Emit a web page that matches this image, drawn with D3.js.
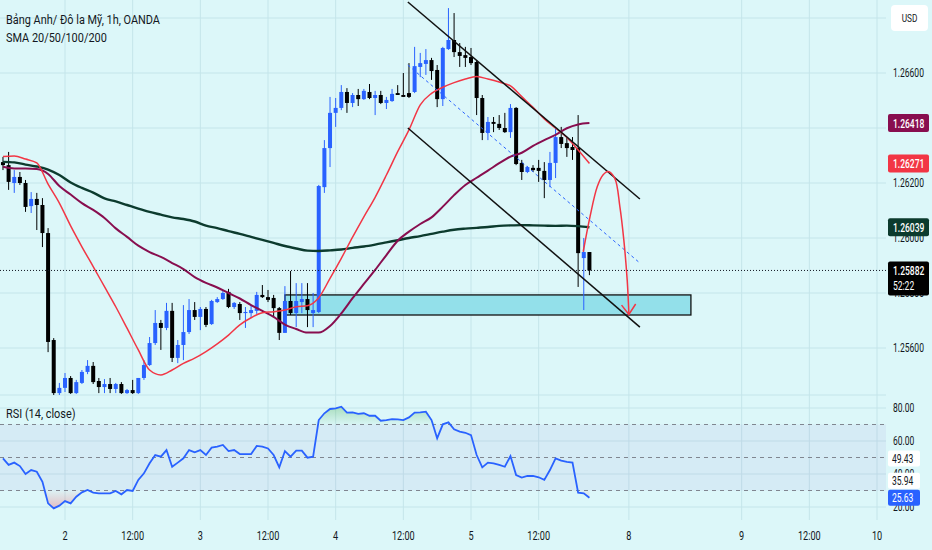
<!DOCTYPE html>
<html>
<head>
<meta charset="utf-8">
<script src="https://cdn.jsdelivr.net/npm/d3@7"></script>
<style>
html, body { margin: 0; padding: 0; background: #dcf7f9; }
svg { display: block; font-family: Roboto, "Noto Sans", sans-serif; }
</style>
</head>
<body>
<svg id="chart" width="932" height="550"></svg>
<script>
// hourly GBP/USD candles, bar 0 = midnight of the 2nd
let firstBar = -11

let opens = [1.26276,1.26265,1.26200,1.26222,1.26200,1.26116,1.26142,1.26120,1.26018,1.25629,1.25436,
  1.25455,1.25491,1.25436,1.25473,1.25513,1.25535,1.25480,1.25458,1.25469,1.25451,1.25469,1.25436,1.25447,1.25436,
  1.25491,1.25538,1.25618,1.25691,1.25673,1.25735,1.25564,1.25611,1.25658,1.25738,1.25713,1.25742,1.25687,1.25767,
  1.25778,1.25804,1.25749,1.25760,1.25727,1.25727,1.25735,1.25793,1.25785,1.25782,1.25745,1.25655,1.25771,1.25727,
  1.25767,1.25778,1.25727,1.25731,1.26185,1.26327,1.26455,1.26473,1.26531,1.26491,1.26520,1.26505,1.26531,1.26509,
  1.26520,1.26491,1.26498,1.26527,1.26520,1.26527,1.26531,1.26622,1.26633,1.26647,1.26611,1.26505,1.26687,1.26720,
  1.26676,1.26665,1.26658,1.26640,1.26509,1.26382,1.26422,1.26415,1.26400,1.26385,1.26473,1.26273,1.26240,1.26255,
  1.26255,1.26244,1.26211,1.26273,1.26367,1.26345,1.26331,1.26327,1.25927,1.25949]
let highs = [1.26295,1.26313,1.26247,1.26240,1.26211,1.26167,1.26164,1.26145,1.26036,1.25636,1.25473,
  1.25509,1.25498,1.25484,1.25520,1.25556,1.25549,1.25491,1.25487,1.25491,1.25473,1.25476,1.25451,1.25484,1.25491,
  1.25556,1.25640,1.25738,1.25702,1.25764,1.25764,1.25629,1.25756,1.25778,1.25767,1.25749,1.25749,1.25775,1.25785,
  1.25807,1.25815,1.25767,1.25767,1.25749,1.25756,1.25804,1.25829,1.25811,1.25793,1.25749,1.25825,1.25880,1.25836,
  1.25836,1.25836,1.25800,1.26193,1.26356,1.26513,1.26509,1.26556,1.26545,1.26527,1.26542,1.26542,1.26560,1.26535,
  1.26535,1.26513,1.26542,1.26556,1.26600,1.26636,1.26695,1.26673,1.26687,1.26655,1.26629,1.26695,1.26836,1.26818,
  1.26709,1.26695,1.26691,1.26647,1.26520,1.26440,1.26440,1.26447,1.26455,1.26487,1.26476,1.26284,1.26262,1.26265,
  1.26284,1.26276,1.26313,1.26400,1.26404,1.26364,1.26367,1.26447,1.26000,1.25949]
let lows = [1.26247,1.26175,1.26164,1.26193,1.26095,1.26091,1.26029,1.25967,1.25585,1.25429,1.25429,
  1.25440,1.25433,1.25433,1.25469,1.25505,1.25469,1.25436,1.25436,1.25436,1.25436,1.25433,1.25433,1.25433,1.25433,
  1.25484,1.25535,1.25611,1.25593,1.25665,1.25549,1.25545,1.25556,1.25651,1.25702,1.25665,1.25676,1.25684,1.25764,
  1.25775,1.25745,1.25742,1.25702,1.25673,1.25709,1.25724,1.25782,1.25767,1.25713,1.25629,1.25655,1.25720,1.25676,
  1.25727,1.25676,1.25676,1.25727,1.26164,1.26258,1.26404,1.26465,1.26455,1.26476,1.26480,1.26502,1.26505,1.26447,
  1.26487,1.26469,1.26495,1.26520,1.26513,1.26509,1.26527,1.26585,1.26593,1.26575,1.26476,1.26480,1.26684,1.26658,
  1.26622,1.26622,1.26629,1.26447,1.26356,1.26356,1.26385,1.26393,1.26382,1.26364,1.26265,1.26211,1.26236,1.26240,
  1.26204,1.26145,1.26185,1.26218,1.26327,1.26295,1.26284,1.25822,1.25738,1.25865]
let closes = [1.26265,1.26204,1.26222,1.26200,1.26113,1.26142,1.26120,1.26018,1.25622,1.25436,1.25455,
  1.25491,1.25436,1.25476,1.25513,1.25535,1.25476,1.25458,1.25469,1.25451,1.25469,1.25436,1.25447,1.25436,1.25491,
  1.25538,1.25618,1.25691,1.25673,1.25735,1.25564,1.25611,1.25658,1.25738,1.25713,1.25742,1.25684,1.25771,1.25778,
  1.25800,1.25749,1.25764,1.25727,1.25731,1.25738,1.25793,1.25785,1.25775,1.25745,1.25655,1.25771,1.25727,1.25771,
  1.25778,1.25738,1.25738,1.26189,1.26327,1.26455,1.26473,1.26531,1.26491,1.26520,1.26505,1.26535,1.26509,1.26520,
  1.26491,1.26502,1.26524,1.26520,1.26513,1.26513,1.26625,1.26636,1.26647,1.26607,1.26505,1.26691,1.26720,1.26676,
  1.26662,1.26655,1.26636,1.26509,1.26382,1.26422,1.26415,1.26400,1.26385,1.26473,1.26269,1.26240,1.26258,1.26247,
  1.26244,1.26211,1.26273,1.26367,1.26342,1.26327,1.26320,1.25945,1.25949,1.25882]

// moving averages, read every second bar
let smaBars = [-11,-9,-7,-5,-3,-1,1,3,5,7,9,11,13,15,17,19,21,23,25,27,29,31,33,35,37,39,41,43,45,47,49,51,
  53,55,57,59,61,63,65,67,69,71,73,75,77,79,81,83,85,87,89,91,93]
let sma20 = [1.26296,1.26298,1.26287,1.26273,1.26196,1.26127,1.26044,1.25968,1.25896,1.25823,1.25750,1.25672,
  1.25593,1.25520,1.25502,1.25520,1.25544,1.25563,1.25587,1.25615,1.25647,1.25684,1.25710,1.25728,1.25732,1.25738,
  1.25750,1.25754,1.25783,1.25853,1.25926,1.26003,1.26077,1.26148,1.26229,1.26314,1.26393,1.26484,1.26526,1.26548,
  1.26565,1.26578,1.26587,1.26578,1.26567,1.26553,1.26514,1.26475,1.26433,1.26399,1.26366,1.26320,1.26271]
let sma50 = [1.26259,1.26253,1.26253,1.26251,1.26233,1.26189,1.26158,1.26127,1.26102,1.26073,1.26035,1.26004,
  1.25972,1.25949,1.25931,1.25909,1.25887,1.25858,1.25837,1.25820,1.25800,1.25780,1.25756,1.25735,1.25713,1.25685,
  1.25669,1.25656,1.25656,1.25680,1.25726,1.25781,1.25833,1.25884,1.25938,1.25990,1.26023,1.26051,1.26075,1.26114,
  1.26156,1.26193,1.26219,1.26245,1.26272,1.26296,1.26310,1.26335,1.26356,1.26375,1.26399,1.26413,1.26418]
let sma200 = [1.26277,1.26275,1.26267,1.26260,1.26249,1.26229,1.26202,1.26182,1.26165,1.26144,1.26133,1.26120,
  1.26107,1.26095,1.26085,1.26075,1.26069,1.26060,1.26045,1.26036,1.26025,1.26015,1.26004,1.25993,1.25982,1.25971,
  1.25962,1.25954,1.25953,1.25955,1.25958,1.25964,1.25969,1.25976,1.25984,1.25992,1.26000,1.26007,1.26015,1.26023,
  1.26030,1.26034,1.26037,1.26040,1.26044,1.26046,1.26047,1.26046,1.26045,1.26044,1.26045,1.26043,1.26039]

let rsiValues = [49.5,45.5,46.9,44.8,40,42.4,41.4,35.3,22.2,19.2,20.8,23.6,
  22.2,26.2,28.9,30.3,28.7,28.3,28.3,28.3,29.7,27.7,
  30.3,29.7,36.4,40.4,46.5,51.5,50.5,54.5,44.4,46.9,
  49.5,54.5,53.1,54.5,51.5,56,56.6,57.6,53.9,54.5,
  52.1,52.1,52.1,57,56.6,55.5,51.5,44,53.9,50.5,
  54.2,54.2,49.9,50.5,72.7,76.8,79.4,79.8,80.8,77.2,
  77.4,76.4,76.8,75.3,75.3,72.3,72.7,73.3,73.1,72.7,
  74.3,77.2,77.4,77.8,72.7,61.6,70.1,71.3,67.1,65.7,
  65,63.6,51.5,44,46.9,46.5,45.5,44.4,50.9,39.4,
  37.8,38.8,38.8,38,36.4,42.4,49.5,48.1,47.3,46.9,
  28.7,28.3,25.63]

let timeTickBars = [0, 12, 24, 36, 48, 60, 72, 84, 100, 120, 132, 144]
let timeTickLabels = ['2', '12:00', '3', '12:00', '4', '12:00', '5', '12:00', '8', '9', '12:00', '10']
let priceGrid = [1.256, 1.258, 1.260, 1.262, 1.264, 1.266, 1.268]
let priceAxisLabels = [1.256, 1.258, 1.260, 1.262, 1.266]
let rsiTicks = [20, 40, 60, 80]
let rsiLevels = [70, 50, 30]

// hand drawings: [bar, price]
let channelTop = [[60.8, 1.26858], [101.95, 1.26142]]
let channelBottom = [[60.8, 1.26400], [101.95, 1.25676]]
let channelMid = [[60.8, 1.26629], [101.95, 1.25909]]
let zoneBars = [39.0, 111.0]
let zonePrices = [1.25793, 1.25720]
let arrowPath = [[91.9, 1.25950], [93.1, 1.26077], [94.4, 1.26187], [95.4, 1.26229], [96.3, 1.26242],
  [97.5, 1.26217], [98.4, 1.26114], [99.1, 1.25993], [99.7, 1.25847], [100.0, 1.25726]]
let arrowHead = [[98.7, 1.25756], [100.0, 1.25722], [101.2, 1.25760]]

let lastPrice = 1.25882
let priceLabels = [
  { v: 1.26418, c: '#880e4f' },
  { v: 1.26271, c: '#f23645' },
  { v: 1.26039, c: '#0c3b2e' }
]
let rsiLabels = [
  { v: 49.43, bg: '#ffffff', fg: '#131722' },
  { v: 35.94, bg: '#ffffff', fg: '#131722' },
  { v: 25.63, bg: '#2962ff', fg: '#ffffff' }
]

let w = 932
let h = 550
let plotRight = 886
let priceBottom = 395
let rsiBottom = 520
let gridColor = '#c4e5ea'
let textColor = '#131722'
let upColor = '#2962ff'
let downColor = '#000000'

let canvas = d3.select('#chart')

let xScale = d3.scaleLinear().domain([0, 144]).range([65, 877])
let yScale = d3.scaleLinear().domain([1.256, 1.266]).range([348, 73])
let rsiScale = d3.scaleLinear().domain([20, 80]).range([507, 408])

// narrow text: draw at origin, then place and squeeze with a transform
let label = (x, y, str, size, k, opts = {}) => {
  let t = canvas.append('text')
    .attr('x', 0).attr('y', 0)
    .attr('font-size', size)
    .attr('fill', opts.fill || textColor)
    .attr('text-anchor', opts.anchor || 'start')
    .attr('font-weight', opts.weight || 400)
    .attr('transform', 'translate(' + x + ',' + y + ') scale(' + k + ',1)')
    .text(str)
  return t
}

let defs = canvas.append('defs')
defs.append('clipPath').attr('id', 'priceClip')
  .append('rect').attr('x', 0).attr('y', 0).attr('width', plotRight).attr('height', priceBottom)
defs.append('clipPath').attr('id', 'rsiClip')
  .append('rect').attr('x', 0).attr('y', priceBottom).attr('width', plotRight).attr('height', rsiBottom - priceBottom)

let gUp = defs.append('linearGradient').attr('id', 'obFill').attr('x1', 0).attr('x2', 0).attr('y1', 0).attr('y2', 1)
gUp.append('stop').attr('offset', '0%').attr('stop-color', '#4caf50').attr('stop-opacity', 0.35)
gUp.append('stop').attr('offset', '100%').attr('stop-color', '#4caf50').attr('stop-opacity', 0.03)
let gDn = defs.append('linearGradient').attr('id', 'osFill').attr('x1', 0).attr('x2', 0).attr('y1', 0).attr('y2', 1)
gDn.append('stop').attr('offset', '0%').attr('stop-color', '#f23645').attr('stop-opacity', 0.03)
gDn.append('stop').attr('offset', '100%').attr('stop-color', '#f23645').attr('stop-opacity', 0.3)

// background + grid
canvas.append('rect').attr('width', w).attr('height', h).attr('fill', '#dcf7f9')

let grid = canvas.append('g')
grid.selectAll('.vgrid').data(timeTickBars).enter().append('line')
  .attr('x1', d => xScale(d)).attr('x2', d => xScale(d))
  .attr('y1', 0).attr('y2', rsiBottom)
  .attr('stroke', gridColor)
grid.selectAll('.pgrid').data(priceGrid.filter(d => yScale(d) < priceBottom)).enter().append('line')
  .attr('x1', 0).attr('x2', plotRight)
  .attr('y1', d => yScale(d)).attr('y2', d => yScale(d))
  .attr('stroke', gridColor)
grid.selectAll('.rgrid').data(rsiTicks).enter().append('line')
  .attr('x1', 0).attr('x2', plotRight)
  .attr('y1', d => rsiScale(d)).attr('y2', d => rsiScale(d))
  .attr('stroke', gridColor)
grid.append('line').attr('x1', 0).attr('x2', plotRight).attr('y1', priceBottom).attr('y2', priceBottom)
  .attr('stroke', gridColor)

// price pane
let pane = canvas.append('g').attr('clip-path', 'url(#priceClip)')

pane.append('rect')
  .attr('x', xScale(zoneBars[0]))
  .attr('y', yScale(zonePrices[0]))
  .attr('width', xScale(zoneBars[1]) - xScale(zoneBars[0]))
  .attr('height', yScale(zonePrices[1]) - yScale(zonePrices[0]))
  .attr('fill', '#93e0ea')
  .attr('stroke', '#111')
  .attr('stroke-width', 1.3)

let bars = d3.range(opens.length).map(k => ({
  i: firstBar + k, o: opens[k], h: highs[k], l: lows[k], c: closes[k]
}))

let candles = pane.append('g')
candles.selectAll('line').data(bars).enter().append('line')
  .attr('x1', d => xScale(d.i)).attr('x2', d => xScale(d.i))
  .attr('y1', d => yScale(d.h)).attr('y2', d => yScale(d.l))
  .attr('stroke', d => d.c >= d.o ? upColor : downColor)
  .attr('stroke-width', 1)
candles.selectAll('rect').data(bars).enter().append('rect')
  .attr('x', d => xScale(d.i) - 2)
  .attr('width', 4)
  .attr('y', d => yScale(Math.max(d.o, d.c)))
  .attr('height', d => Math.max(1, Math.abs(yScale(d.o) - yScale(d.c))))
  .attr('fill', d => d.c >= d.o ? upColor : downColor)

let smaLine = (vals) => d3.line()
  .x((d, k) => xScale(smaBars[k]))
  .y(d => yScale(d))
  .curve(d3.curveMonotoneX)(vals)

pane.append('path').attr('d', smaLine(sma200)).attr('fill', 'none').attr('stroke', '#0c3b2e').attr('stroke-width', 2.4)
pane.append('path').attr('d', smaLine(sma50)).attr('fill', 'none').attr('stroke', '#880e4f').attr('stroke-width', 2)
pane.append('path').attr('d', smaLine(sma20)).attr('fill', 'none').attr('stroke', '#f23645').attr('stroke-width', 1.5)

let ptLine = d3.line().x(d => xScale(d[0])).y(d => yScale(d[1]))
pane.append('path').attr('d', ptLine(channelTop)).attr('stroke', '#111').attr('stroke-width', 1.5).attr('fill', 'none')
pane.append('path').attr('d', ptLine(channelBottom)).attr('stroke', '#111').attr('stroke-width', 1.5).attr('fill', 'none')
pane.append('path').attr('d', ptLine(channelMid)).attr('stroke', '#2962ff').attr('stroke-width', 1)
  .attr('stroke-dasharray', '3,3').attr('fill', 'none')

let curveLine = d3.line().x(d => xScale(d[0])).y(d => yScale(d[1])).curve(d3.curveCatmullRom)
pane.append('path').attr('d', curveLine(arrowPath))
  .attr('stroke', '#f23645').attr('stroke-width', 1.5).attr('fill', 'none')
pane.append('path').attr('d', ptLine(arrowHead))
  .attr('stroke', '#f23645').attr('stroke-width', 1.5).attr('fill', 'none')

canvas.append('line')
  .attr('x1', 0).attr('x2', 887)
  .attr('y1', yScale(lastPrice)).attr('y2', yScale(lastPrice))
  .attr('stroke', textColor).attr('stroke-width', 1).attr('stroke-dasharray', '1,2')

// RSI pane
let rsiPane = canvas.append('g').attr('clip-path', 'url(#rsiClip)')
rsiPane.append('rect')
  .attr('x', 0).attr('width', plotRight)
  .attr('y', rsiScale(70)).attr('height', rsiScale(30) - rsiScale(70))
  .attr('fill', '#7e57c2').attr('fill-opacity', 0.07)
rsiPane.selectAll('.lvl').data(rsiLevels).enter().append('line')
  .attr('x1', 0).attr('x2', plotRight)
  .attr('y1', d => rsiScale(d)).attr('y2', d => rsiScale(d))
  .attr('stroke', '#808690').attr('stroke-dasharray', '4,4')

rsiPane.append('path')
  .attr('d', d3.area().x((d, k) => xScale(firstBar + k)).y0(rsiScale(70)).y1(d => rsiScale(Math.max(d, 70)))(rsiValues))
  .attr('fill', 'url(#obFill)')
rsiPane.append('path')
  .attr('d', d3.area().x((d, k) => xScale(firstBar + k)).y0(rsiScale(30)).y1(d => rsiScale(Math.min(d, 30)))(rsiValues))
  .attr('fill', 'url(#osFill)')
rsiPane.append('path')
  .attr('d', d3.line().x((d, k) => xScale(firstBar + k)).y(d => rsiScale(d))(rsiValues))
  .attr('fill', 'none').attr('stroke', '#2962ff').attr('stroke-width', 1.8)

// legends
label(6, 24, 'Bảng Anh/ Đô la Mỹ, 1h, OANDA', 13, 0.84)
label(6, 41.5, 'SMA 20/50/100/200', 13, 0.84)
label(6, 418, 'RSI (14, close)', 13, 0.84)

// time axis
timeTickBars.forEach((b, k) => {
  label(xScale(b), 540, timeTickLabels[k], 12, 0.76, { anchor: 'middle' })
})

// price axis
priceAxisLabels.forEach(v => label(893, yScale(v) + 4, v.toFixed(5), 12, 0.71))
rsiTicks.forEach(v => label(893, rsiScale(v) + 4, v.toFixed(2), 12, 0.71))

canvas.append('rect').attr('x', 891).attr('y', 5).attr('width', 37).attr('height', 26).attr('rx', 4)
  .attr('fill', '#ffffff')
label(909.5, 22, 'USD', 11, 0.75, { anchor: 'middle' })

priceLabels.forEach(p => {
  canvas.append('rect').attr('x', 888).attr('y', yScale(p.v) - 9).attr('width', 41).attr('height', 18).attr('rx', 2)
    .attr('fill', p.c)
  label(893, yScale(p.v) + 4.5, p.v.toFixed(5), 12, 0.71, { fill: '#ffffff', weight: 500 })
})

canvas.append('rect').attr('x', 888).attr('y', yScale(lastPrice) - 9).attr('width', 41).attr('height', 34).attr('rx', 2)
  .attr('fill', '#000000')
label(893, yScale(lastPrice) + 4.5, lastPrice.toFixed(5), 12, 0.71, { fill: '#ffffff', weight: 500 })
label(893, yScale(lastPrice) + 20, '52:22', 12, 0.71, { fill: '#ffffff' })

rsiLabels.forEach(r => {
  canvas.append('rect').attr('x', 888).attr('y', rsiScale(r.v) - 8).attr('width', 32).attr('height', 16).attr('rx', 2)
    .attr('fill', r.bg)
  label(892, rsiScale(r.v) + 4.5, r.v.toFixed(2), 12, 0.71, { fill: r.fg })
})
</script>
</body>
</html>
